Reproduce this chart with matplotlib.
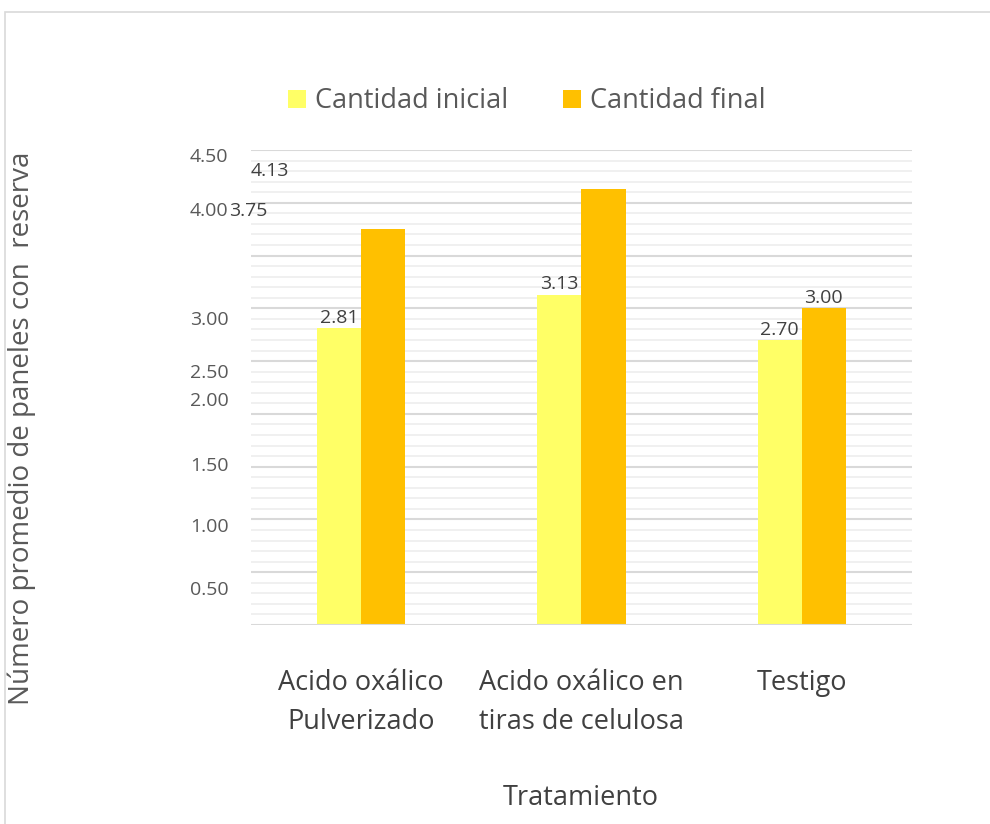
import matplotlib.pyplot as plt
from matplotlib.patches import Rectangle
import numpy as np

plt.rcParams['font.family'] = ['Open Sans', 'DejaVu Sans']

# datos
tratamientos = ['Acido oxálico\nPulverizado', 'Acido oxálico en\ntiras de celulosa', 'Testigo']
cantidad_inicial = [2.81, 3.13, 2.70]
cantidad_final = [3.75, 4.13, 3.00]

# etiquetas del eje y tal como aparecen (desplazadas) en la imagen
ytick_text = ['4.50', '4.00', '3.00', '2.50', '2.00', '1.50', '1.00', '0.50']
ytick_pos = [4.43, 3.92, 2.89, 2.39, 2.12, 1.51, 0.93, 0.33]

fig = plt.figure(figsize=(9.9, 8.24), dpi=100)
fig.patches.append(Rectangle((0.005, -0.05), 1.2, 1.0354, transform=fig.transFigure,
                             fill=False, edgecolor='#d9d9d9', lw=1.2))
ax = fig.add_axes([0.2535, 0.2415, 0.6677, 0.5765])

x = np.arange(len(tratamientos))
w = 0.2
ax.bar(x - w / 2, cantidad_inicial, w, color='#ffff66', label='Cantidad inicial', zorder=3)
ax.bar(x + w / 2, cantidad_final, w, color='#ffc000', label='Cantidad final', zorder=3)

ax.set_xlim(-0.5, 2.5)
ax.set_ylim(0, 4.5)

# lineas de division
for v in np.arange(0.1, 4.51, 0.1):
    major = abs(v / 0.5 - round(v / 0.5)) < 1e-6
    ax.axhline(v, color='#d9d9d9' if major else '#efefef', lw=1.5 if major else 1.3, zorder=1)
ax.axhline(0, color='#d9d9d9', lw=1.5, zorder=4)

for s in ax.spines.values():
    s.set_visible(False)
ax.set_yticks([])
ax.set_xticks(x)
ax.set_xticklabels(tratamientos, fontsize=19.5, color='#404040', linespacing=1.5)
ax.tick_params(axis='x', length=0, pad=32)

trans = ax.get_yaxis_transform()
for t, p in zip(ytick_text, ytick_pos):
    ax.text(-0.034, p, t, transform=trans, ha='right', va='center', fontsize=14, color='#595959')

# etiquetas de datos
for i, v in enumerate(cantidad_inicial):
    ax.annotate(f'{v:.2f}', (x[i] - w / 2, v), xytext=(0, 1), textcoords='offset points',
                ha='center', va='bottom', fontsize=14, color='#404040')
ax.annotate(f'{cantidad_final[2]:.2f}', (x[2] + w / 2, cantidad_final[2]), xytext=(0, 1),
            textcoords='offset points', ha='center', va='bottom', fontsize=14, color='#404040')
ax.text(-0.033, 3.92, f'{cantidad_final[0]:.2f}', transform=trans, ha='left', va='center',
        fontsize=14, color='#404040')
ax.text(0.0, 4.30, f'{cantidad_final[1]:.2f}', transform=trans, ha='left', va='center',
        fontsize=14, color='#404040')

fig.text(0.587, 0.031, 'Tratamiento', ha='center', va='center', fontsize=19.5, color='#404040')
fig.text(0.022, 0.48, 'Número promedio de paneles con  reserva', rotation=90,
         ha='center', va='center', fontsize=20, color='#595959')

fig.legend(loc='center', bbox_to_anchor=(0.532, 0.877), ncol=2, frameon=False,
           fontsize=19.5, handlelength=0.67, handleheight=0.67, columnspacing=2.0,
           handletextpad=0.33, labelcolor='#595959')

fig.savefig('out.png', dpi=100)
